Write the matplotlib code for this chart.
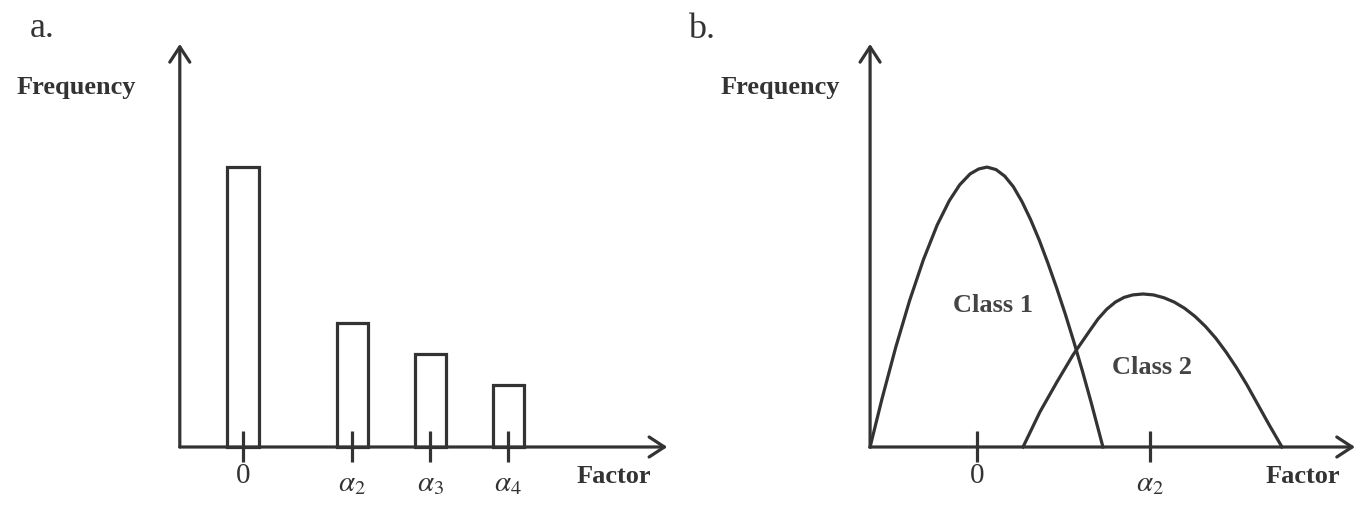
import matplotlib
matplotlib.use("Agg")
import matplotlib.pyplot as plt

plt.rcParams['font.family'] = ['Liberation Serif', 'DejaVu Serif']
plt.rcParams['mathtext.fontset'] = 'stix'

# panel a: histogram of factor values
bar_pos = [0, 1.4, 2.4, 3.4]
bar_freq = [9, 4, 3, 2]
bar_ticklabels = ['0', r'$\alpha_2$', r'$\alpha_3$', r'$\alpha_4$']

# panel b: two class distributions
class1_x = [-0.618, -0.55, -0.47, -0.39, -0.31, -0.23, -0.16, -0.10, -0.04, 0.01, 0.058,
            0.11, 0.16, 0.21, 0.26, 0.31, 0.36, 0.41, 0.46, 0.51, 0.56, 0.61, 0.66, 0.728]
class1_y = [0, 1.53, 3.20, 4.70, 6.02, 7.14, 7.92, 8.43, 8.78, 8.94, 9.00,
            8.92, 8.71, 8.37, 7.89, 7.31, 6.65, 5.91, 5.12, 4.28, 3.38, 2.43, 1.43, 0]
class2_x = [0.266, 0.364, 0.462, 0.555, 0.653, 0.70, 0.75, 0.80, 0.85, 0.90, 0.96,
            1.02, 1.08, 1.14, 1.20, 1.26, 1.32, 1.38, 1.44, 1.50, 1.56, 1.62, 1.69, 1.763]
class2_y = [0, 1.13, 2.09, 2.96, 3.75, 4.12, 4.43, 4.66, 4.81, 4.89, 4.92,
            4.89, 4.80, 4.66, 4.46, 4.20, 3.88, 3.50, 3.05, 2.55, 2.00, 1.40, 0.70, 0]
b_ticks = [0, 1]
b_ticklabels = ['0', r'$\alpha_2$']

col = '#333333'
lw = 2.3

fig = plt.figure(figsize=(13.68, 5.06), dpi=100)
ax1 = fig.add_axes([0, 0, 0.5, 1])
ax2 = fig.add_axes([0.5, 0, 0.5, 1])


def arrow(ax, start, end):
    ax.annotate('', xy=end, xytext=start,
                arrowprops=dict(arrowstyle='->,head_length=0.55,head_width=0.36',
                                lw=lw, color=col, shrinkA=0, shrinkB=0,
                                mutation_scale=20))


def ticks(ax, xs, labels):
    for x, lab in zip(xs, labels):
        ax.plot([x, x], [-0.48, 0.51], color=col, lw=lw, solid_capstyle='butt')
        yy = -0.90 if lab == '0' else -1.16
        ax.text(x, yy, lab, ha='center', va='center', fontsize=21, color=col)


#%% a
ax1.set_xlim(-3.115, 5.654)
ax1.set_ylim(-1.865, 14.405)
ax1.axis('off')
ax1.bar(bar_pos, bar_freq, width=0.4, fill=False, edgecolor=col, linewidth=lw)
arrow(ax1, (-0.81, 0), (5.44, 0))
arrow(ax1, (-0.81, 0), (-0.81, 12.96))
ticks(ax1, bar_pos, bar_ticklabels)
ax1.text(-2.58, 13.5, 'a.', ha='center', va='center', fontsize=26, color=col)
ax1.text(-2.14, 11.58, 'Frequency', ha='center', va='center', fontsize=19,
         fontweight='bold', color=col)
ax1.text(4.76, -0.93, 'Factor', ha='center', va='center', fontsize=19,
         fontweight='bold', color=col)

#%% b
ax2.set_xlim(-1.6936, 2.2601)
ax2.set_ylim(-1.865, 14.405)
ax2.axis('off')
ax2.plot(class1_x, class1_y, color=col, lw=lw, solid_joinstyle='round')
ax2.plot(class2_x, class2_y, color=col, lw=lw, solid_joinstyle='round')
arrow(ax2, (-0.618, 0), (2.185, 0))
arrow(ax2, (-0.618, 0), (-0.618, 12.96))
ticks(ax2, b_ticks, b_ticklabels)
ax2.text(-1.595, 13.45, 'b.', ha='center', va='center', fontsize=26, color=col)
ax2.text(-1.139, 11.58, 'Frequency', ha='center', va='center', fontsize=19,
         fontweight='bold', color=col)
ax2.text(1.884, -0.93, 'Factor', ha='center', va='center', fontsize=19,
         fontweight='bold', color=col)
ax2.text(0.092, 4.57, 'Class 1', ha='center', va='center', fontsize=19,
         fontweight='bold', color='#444444')
ax2.text(1.012, 2.60, 'Class 2', ha='center', va='center', fontsize=19,
         fontweight='bold', color='#444444')

plt.savefig('out.png', dpi=100)
